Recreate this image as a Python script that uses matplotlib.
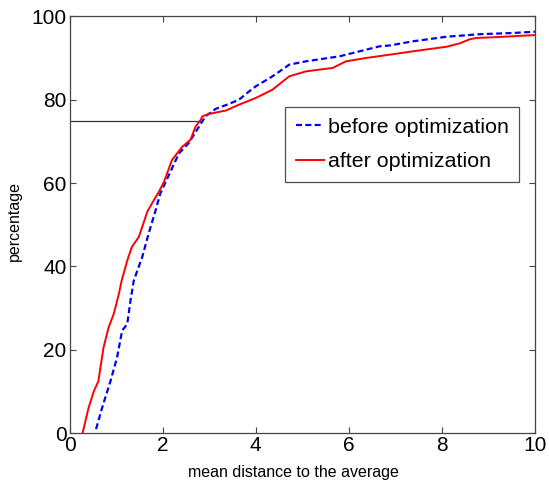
import matplotlib
matplotlib.use("Agg")
import matplotlib.pyplot as plt

plt.rcParams['font.family'] = ['Liberation Sans', 'DejaVu Sans']

# before optimization (blue dashed)
before_x = [0.57, 0.70, 0.88, 1.02, 1.13, 1.24, 1.31, 1.38, 1.56, 1.70, 1.85, 1.95,
            2.10, 2.35, 2.56, 2.74, 2.92, 3.14, 3.43, 3.64, 3.86, 4.0, 4.36, 4.72,
            5.08, 5.80, 6.23, 6.66, 6.88, 7.38, 8.10, 8.81, 9.53, 10.0]
before_y = [1.0, 6.1, 12.5, 18.1, 24.6, 26.2, 31.8, 36.6, 42.2, 47.9, 53.5, 57.5,
            61.1, 67.1, 69.6, 72.8, 76.0, 77.8, 79.0, 80.0, 82.0, 83.2, 85.6, 88.4,
            89.2, 90.4, 91.6, 92.8, 93.0, 94.0, 95.1, 95.7, 96.0, 96.3]

# after optimization (red solid)
after_x = [0.28, 0.41, 0.52, 0.62, 0.73, 0.84, 0.95, 1.06, 1.12, 1.24, 1.34, 1.49,
           1.67, 1.77, 1.92, 2.03, 2.20, 2.42, 2.60, 2.71, 2.82, 2.85, 3.0, 3.36,
           3.64, 4.0, 4.36, 4.72, 5.08, 5.65, 5.94, 6.37, 6.88, 7.38, 8.10, 8.38,
           8.60, 8.74, 9.17, 10.0]
after_y = [0.0, 6.1, 10.0, 12.5, 20.5, 25.4, 28.6, 33.4, 36.6, 41.4, 44.7, 47.1,
           53.1, 55.1, 57.9, 60.3, 65.5, 68.7, 70.4, 73.6, 75.2, 76.0, 76.6, 77.4,
           78.8, 80.4, 82.4, 85.6, 86.8, 87.6, 89.2, 90.0, 90.8, 91.6, 92.7, 93.5,
           94.5, 94.8, 95.0, 95.5]

ref_level = 75
ref_x_end = 2.85

x_ticks = [0, 2, 4, 6, 8, 10]
y_ticks = [0, 20, 40, 60, 80, 100]

fig = plt.figure(figsize=(5.49, 4.86), dpi=100)
ax = fig.add_axes([0.1266, 0.1085, 0.848, 0.858])

ax.plot([0, ref_x_end], [ref_level, ref_level], color='#333333', linewidth=0.9)
ax.plot(before_x, before_y, color='#0000ff', linestyle=(0, (2.7, 1.5)), linewidth=1.6,
        label='before optimization')
ax.plot(after_x, after_y, color='#ff0000', linestyle='-', linewidth=1.4,
        label='after optimization')

ax.set_xlim(0, 10)
ax.set_ylim(0, 100)
ax.set_xticks(x_ticks)
ax.set_yticks(y_ticks)
ax.tick_params(direction='in', top=True, right=True, length=4, width=0.8,
               labelsize=15, color='#444444', pad=2)
for s in ax.spines.values():
    s.set_color('#444444')
    s.set_linewidth(0.9)

ax.set_xlabel('mean distance to the average', fontsize=11.5)
ax.xaxis.set_label_coords(0.48, -0.075)
ax.set_ylabel('percentage', fontsize=11.5)
ax.yaxis.set_label_coords(-0.102, 0.51)

leg = ax.legend(loc='upper left', bbox_to_anchor=(0.463, 0.782), fontsize=15.4,
                frameon=True, fancybox=False, edgecolor='#222222',
                handlelength=1.3, handletextpad=0.2, borderpad=0.5,
                labelspacing=0.72, borderaxespad=0)
leg.get_frame().set_linewidth(0.9)

fig.savefig('out.png', dpi=100)
